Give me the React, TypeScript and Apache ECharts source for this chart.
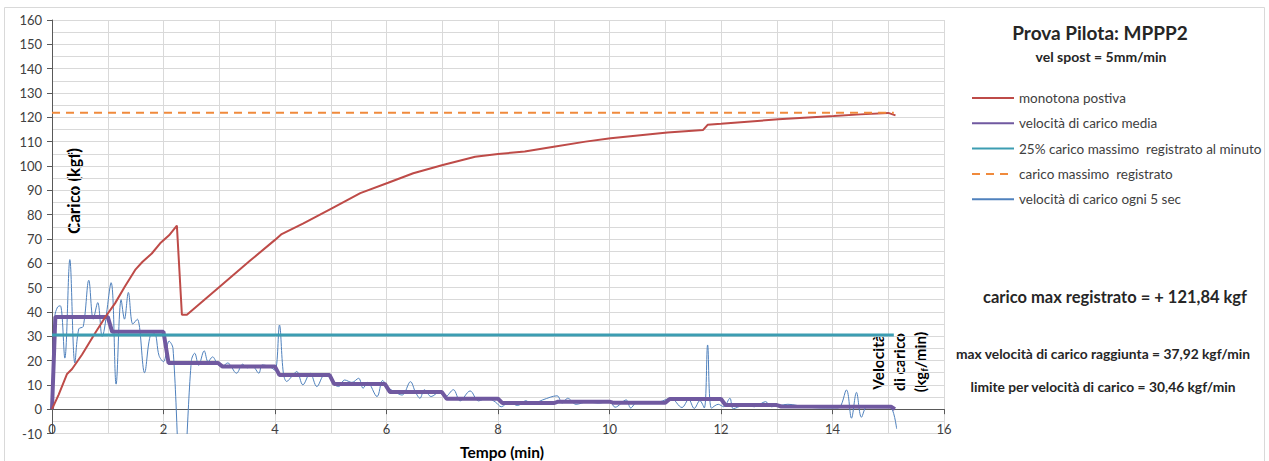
import React, { useEffect, useRef } from 'react';
import * as echarts from 'echarts';

// Tempo (min) vs Carico (kgf)
const caricoMonotona: [number, number][] = [
  [0, 0], [0.12, 6], [0.27, 14.5], [0.36, 16.5], [0.54, 22.5], [0.78, 31.5], [0.96, 38],
  [1.13, 43.5], [1.31, 50.5], [1.5, 57.5], [1.62, 60.5], [1.79, 64], [1.94, 68.2], [2.1, 71.5],
  [2.24, 75.5], [2.33, 38.8], [2.42, 38.8], [2.96, 49.4], [3.55, 61], [4.0, 69.6], [4.12, 72],
  [4.51, 76.4], [5.02, 82.6], [5.53, 88.8], [6.03, 93.1], [6.48, 97], [7.01, 100.4], [7.59, 103.8],
  [8.0, 104.9], [8.48, 105.9], [9.0, 107.9], [9.57, 110], [10.02, 111.4], [11.04, 113.7],
  [11.68, 114.8], [11.76, 116.9], [12.0, 117.3], [13.03, 119.2], [14.02, 120.5], [14.5, 121.2],
  [15.0, 121.8], [15.13, 120.8],
];

const velocitaMedia: [number, number][] = [
  [0, 0], [0.06, 37.92], [1.0, 37.92], [1.08, 31.8], [2.0, 31.8], [2.09, 19], [2.98, 19],
  [3.06, 17.5], [4.0, 17.5], [4.08, 14], [4.98, 14], [5.06, 10.4], [5.97, 10.4], [6.06, 7.1],
  [6.99, 7.1], [7.08, 4.3], [8.0, 4.3], [8.08, 2.5], [9.0, 2.5], [9.08, 3.1], [10.0, 3.1],
  [10.08, 2.6], [11.0, 2.6], [11.08, 4.2], [12.0, 4.2], [12.08, 1.7], [13.0, 1.7], [13.08, 1.1],
  [15.05, 1.0], [15.12, 0],
];

const limite25: [number, number][] = [[0, 30.46], [15.1, 30.46]];
const caricoMax: [number, number][] = [[0, 121.84], [15.1, 121.84]];

const velocita5s: [number, number][] = [
  [0, 0], [0.05, 38], [0.1, 42], [0.15, 42.5], [0.23, 21], [0.32, 61.5], [0.41, 19], [0.48, 33],
  [0.56, 34], [0.66, 53], [0.74, 37], [0.82, 43.8], [0.9, 29.9], [1.06, 52], [1.15, 10.3],
  [1.24, 45], [1.3, 37], [1.37, 48], [1.45, 35], [1.53, 37], [1.66, 15], [1.76, 30], [1.84, 31],
  [1.92, 22], [2.0, 19.5], [2.1, 28], [2.17, 25], [2.33, -40], [2.5, 20], [2.56, 23], [2.63, 18],
  [2.73, 24], [2.8, 19.5], [2.88, 21.5], [2.97, 18.5], [3.05, 17.5], [3.15, 19], [3.31, 14.8],
  [3.42, 18.5], [3.5, 17], [3.6, 17.5], [3.71, 14.8], [3.77, 18.2], [3.9, 17.5], [4.0, 16],
  [4.08, 34.6], [4.15, 14.8], [4.21, 11.4], [4.3, 13.4], [4.39, 15.5], [4.5, 10], [4.63, 14.8],
  [4.75, 9.3], [4.87, 14], [4.96, 14.5], [5.05, 10.5], [5.14, 9.3], [5.25, 12], [5.38, 11],
  [5.5, 12.7], [5.58, 8.6], [5.66, 11], [5.83, 5.2], [5.93, 11.8], [6.02, 9], [6.12, 7.5],
  [6.28, 5.8], [6.43, 11.3], [6.52, 7], [6.6, 4.5], [6.68, 8], [6.8, 5.2], [6.95, 7], [7.05, 5],
  [7.2, 8], [7.32, 3.4], [7.5, 7.5], [7.65, 3.4], [7.8, 4.5], [7.95, 3], [8.06, 1], [8.2, 3],
  [8.35, 1.5], [8.5, 3.5], [8.6, 2], [8.8, 3.8], [9.06, 5.5], [9.15, 2.5], [9.25, 4.5], [9.4, 2],
  [9.6, 3], [9.8, 2.5], [10.0, 3.2], [10.1, 0.8], [10.3, 3.8], [10.38, 0.5], [10.5, 3], [10.7, 2.5],
  [10.9, 3], [11.1, 4.5], [11.3, 0.7], [11.42, 4], [11.52, 0.3], [11.62, 3.5], [11.7, 0.5],
  [11.76, 26.4], [11.83, 0.4], [11.95, 2], [12.05, 1], [12.16, 4.5], [12.22, 0.2], [12.4, 1.5],
  [12.6, 1], [12.8, 3.1], [12.9, 1], [13.2, 2], [13.5, 1], [13.8, 0.5], [14.1, 0.5], [14.25, 7.9],
  [14.34, -3.7], [14.43, 6.9], [14.52, -3.3], [14.62, 1], [14.8, 1], [15.02, 1.2], [15.15, -8],
];

const seriesNames = [
  'monotona postiva',
  'velocità di carico media',
  '25% carico massimo  registrato al minuto',
  'carico massimo  registrato',
  'velocità di carico ogni 5 sec',
];

const FONT = 'Lato, "Open Sans", sans-serif';
const TEXT = '#262626';

const Y_MIN = -10;
const Y_MAX = 160;
const GRID_TOP = 20;
const GRID_BOTTOM = 27.5;
const CHART_H = 461;

export default function App() {
  const ref = useRef<HTMLDivElement>(null);
  useEffect(() => {
    if (!ref.current) return;
    const chart = echarts.init(ref.current, undefined, { renderer: 'svg' });
    const gridColor = '#d9d9d9';
    const pxPerUnit = (CHART_H - GRID_TOP - GRID_BOTTOM) / (Y_MAX - Y_MIN);
    chart.setOption({
      animation: false,
      textStyle: { fontFamily: FONT },
      grid: { left: 52, right: 325, top: GRID_TOP, bottom: GRID_BOTTOM, containLabel: false },
      xAxis: {
        type: 'value', min: 0, max: 16, interval: 2,
        offset: -(0 - Y_MIN) * pxPerUnit,
        axisLine: { show: true, onZero: false, lineStyle: { color: '#595959', width: 1 } },
        axisTick: { show: true, length: 5, lineStyle: { color: '#595959' } },
        axisLabel: { fontSize: 13, color: '#404040', margin: 13, fontFamily: FONT },
        splitLine: { show: true, lineStyle: { color: gridColor, width: 1 } },
        minorTick: { show: false, splitNumber: 2 },
        minorSplitLine: { show: true, lineStyle: { color: gridColor, width: 1 } },
      },
      yAxis: {
        type: 'value', min: Y_MIN, max: Y_MAX, interval: 10,
        axisLine: { show: true, onZero: false, lineStyle: { color: '#595959', width: 1 } },
        axisTick: { show: true, length: 5, lineStyle: { color: '#595959' } },
        axisLabel: { fontSize: 13, color: '#404040', margin: 10, fontFamily: FONT },
        splitLine: { show: true, lineStyle: { color: gridColor, width: 1 } },
        minorTick: { show: false, splitNumber: 2 },
        minorSplitLine: { show: true, lineStyle: { color: gridColor, width: 1 } },
      },
      legend: {
        orient: 'vertical', left: 966, top: 85, itemWidth: 42, itemHeight: 12, itemGap: 9.3,
        itemStyle: { opacity: 0 },
        textStyle: { fontSize: 13.5, color: '#404040', fontFamily: FONT, lineHeight: 16 },
        data: seriesNames,
      },
      series: [
        {
          name: seriesNames[4], type: 'line', data: velocita5s, showSymbol: false, symbol: 'none',
          smooth: 0.35, z: 2, lineStyle: { color: '#4F81BD', width: 1 }, itemStyle: { color: '#4F81BD' },
        },
        {
          name: seriesNames[1], type: 'line', data: velocitaMedia, showSymbol: false, symbol: 'none',
          z: 3, lineStyle: { color: '#7059A0', width: 4 }, itemStyle: { color: '#7059A0' },
        },
        {
          name: seriesNames[0], type: 'line', data: caricoMonotona, showSymbol: false, symbol: 'none',
          z: 4, lineStyle: { color: '#BE4B48', width: 2 }, itemStyle: { color: '#BE4B48' },
        },
        {
          name: seriesNames[2], type: 'line', data: limite25, showSymbol: false, symbol: 'none',
          z: 5, lineStyle: { color: '#3C9DB2', width: 3 }, itemStyle: { color: '#3C9DB2' },
        },
        {
          name: seriesNames[3], type: 'line', data: caricoMax, showSymbol: false, symbol: 'none',
          z: 5, lineStyle: { color: '#F08A3C', width: 2, type: [8, 6] }, itemStyle: { color: '#F08A3C' },
        },
      ],
      graphic: [
        {
          type: 'rect', silent: true, z: -10,
          shape: { x: 4.5, y: 7.5, width: 1260, height: 480 },
          style: { fill: 'none', stroke: '#d9d9d9', lineWidth: 1 },
        },
        {
          type: 'text', x: 1100, y: 32,
          style: { text: 'Prova Pilota: MPPP2', fontSize: 19, fontWeight: 'bold', fontFamily: FONT, fill: TEXT, align: 'center', verticalAlign: 'middle' },
        },
        {
          type: 'text', x: 1101, y: 56,
          style: { text: 'vel spost = 5mm/min', fontSize: 14, fontWeight: 'bold', fontFamily: FONT, fill: TEXT, align: 'center', verticalAlign: 'middle' },
        },
        {
          type: 'text', x: 1115, y: 297,
          style: { text: 'carico max registrato = + 121,84 kgf', fontSize: 16.5, fontWeight: 'bold', fontFamily: FONT, fill: TEXT, align: 'center', verticalAlign: 'middle' },
        },
        {
          type: 'text', x: 1103, y: 353,
          style: { text: 'max velocità di carico raggiunta = 37,92 kgf/min', fontSize: 13.8, fontWeight: 'bold', fontFamily: FONT, fill: TEXT, align: 'center', verticalAlign: 'middle' },
        },
        {
          type: 'text', x: 1103, y: 386,
          style: { text: 'limite per velocità di carico = 30,46 kgf/min', fontSize: 13.8, fontWeight: 'bold', fontFamily: FONT, fill: TEXT, align: 'center', verticalAlign: 'middle' },
        },
        {
          type: 'text', x: 73, y: 191, rotation: Math.PI / 2,
          style: { text: 'Carico (kgf)', fontSize: 17, fontWeight: 'bold', fontFamily: FONT, fill: '#000', align: 'center', verticalAlign: 'middle' },
        },
        {
          type: 'text', x: 502, y: 460,
          style: { text: 'Tempo (min)', fontSize: 15.5, fontWeight: 'bold', fontFamily: FONT, fill: '#000', align: 'center', verticalAlign: 'bottom' },
        },
        {
          type: 'text', x: 899, y: 362, rotation: Math.PI / 2,
          style: {
            text: 'Velocità\ndi carico\n(kg{s|f}/min)',
            fontSize: 15.5, fontWeight: 'bold', fontFamily: FONT, fill: '#000', lineHeight: 21,
            align: 'center', verticalAlign: 'middle',
            rich: { s: { fontSize: 9, fontWeight: 'bold', fontFamily: FONT, fill: '#000', padding: [8, 0, 0, 0], lineHeight: 21 } },
          },
        },
      ],
    });
    return () => chart.dispose();
  }, []);
  return (
    <div
      ref={ref}
      style={{ position: 'fixed', left: 0, top: 0, width: 1269, height: 461, background: '#fff' }}
    />
  );
}
